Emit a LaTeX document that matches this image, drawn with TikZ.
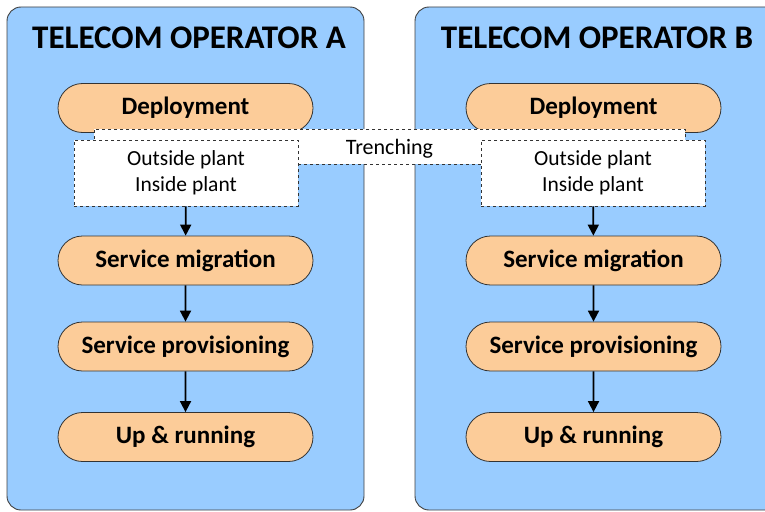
\documentclass[tikz,border=0pt]{standalone}
\usepackage{fontspec}
\setmainfont{Carlito}
\usetikzlibrary{shapes.misc,arrows.meta}

\definecolor{panelblue}{RGB}{153,204,255}
\definecolor{peach}{RGB}{252,204,153}
\definecolor{edgegray}{RGB}{64,64,64}

\tikzset{
  panel/.style={draw=edgegray,fill=panelblue,rounded corners=14pt,line width=0.9pt},
  title/.style={font=\fontsize{33}{35}\selectfont\bfseries},
  phase/.style={rounded rectangle,draw=black!80,fill=peach,line width=0.8pt,
    minimum width=255pt,minimum height=49pt,inner sep=0pt,
    text height=16.5pt,text depth=3pt,
    font=\fontsize{25}{27}\selectfont\bfseries},
  notebox/.style={draw=black!80,fill=white,dashed,line width=0.6pt,
    minimum width=224pt,minimum height=66pt,inner sep=0pt,align=center,
    font=\fontsize{21.5}{26}\selectfont},
  flow/.style={-{Triangle[length=11pt,width=11pt]},line width=1.8pt}
}

\begin{document}
\begin{tikzpicture}[x=1pt,y=-1pt]
  \useasboundingbox (0,0) rectangle (765,511);
  \clip (0,0) rectangle (765,511);

  % operator panels
  \draw[panel] (7,7) rectangle (364,510);
  \draw[panel] (415,7) rectangle (790,510);
  \node[title] (titA) at (189,38) {TELECOM OPERATOR A};
  \node[title] (titB) at (597,38) {TELECOM OPERATOR B};

  % phases, operator A
  \node[phase] (depA) at (185.5,108) {Deployment};
  \node[phase] (migA) at (185.5,260.5) {Service migration};
  \node[phase] (proA) at (185.5,346.5) {Service provisioning};
  \node[phase] (runA) at (185.5,437) {Up \& running};

  % phases, operator B
  \node[phase] (depB) at (593.5,108) {Deployment};
  \node[phase] (migB) at (593.5,260.5) {Service migration};
  \node[phase] (proB) at (593.5,346.5) {Service provisioning};
  \node[phase] (runB) at (593.5,437) {Up \& running};

  % shared trenching
  \node[notebox,minimum width=591pt,minimum height=35pt,text height=17pt,text depth=2pt,
    font=\fontsize{22}{24}\selectfont] (trench) at (389.5,146.5) {Trenching};

  \node[notebox] (plantA) at (186,173) {Outside plant\\Inside plant};
  \node[notebox] (plantB) at (593,173) {Outside plant\\Inside plant};

  \draw[flow] (plantA) -- (migA);
  \draw[flow] (migA) -- (proA);
  \draw[flow] (proA) -- (runA);
  \draw[flow] (plantB) -- (migB);
  \draw[flow] (migB) -- (proB);
  \draw[flow] (proB) -- (runB);
\end{tikzpicture}
\end{document}
